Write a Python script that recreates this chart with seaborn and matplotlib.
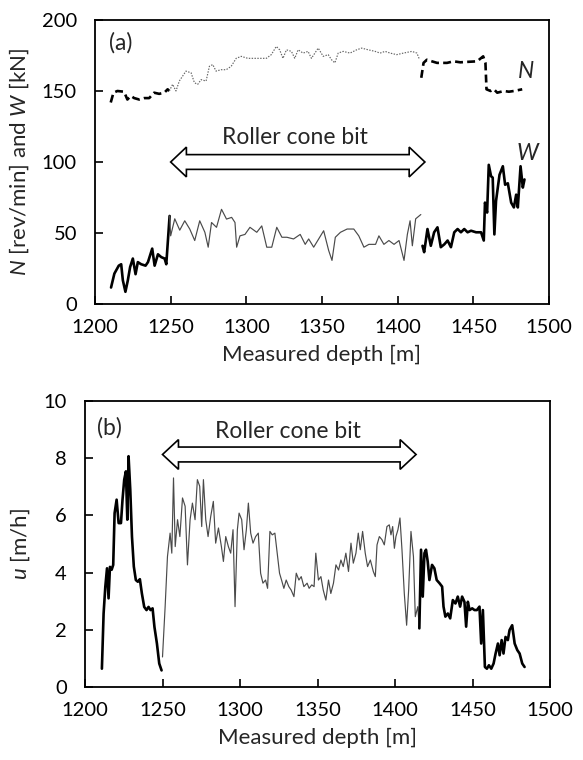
import numpy as np
import pandas as pd
import matplotlib
matplotlib.use("Agg")
import matplotlib.pyplot as plt
import matplotlib.patches as mpatches
import seaborn as sns

sns.set_theme(style="white")
plt.rcParams['font.family'] = ['Lato', 'DejaVu Sans']
plt.rcParams['mathtext.fontset'] = 'custom'
plt.rcParams['mathtext.it'] = 'Lato:italic'
plt.rcParams['mathtext.rm'] = 'Lato'

# ---------------- Panel (a): W [kN] ----------------
w1_depth = [1210.6, 1212.8, 1215.7, 1217.3, 1218.4, 1220.1, 1221.7, 1223.2, 1225.0, 1226.8,
            1228.3, 1230.5, 1233.4, 1235.0, 1237.8, 1239.4, 1241.6, 1243.8, 1246.0, 1247.1, 1249.3]
w1_val = [11.6, 21.4, 27, 28, 16.7, 8.6, 16.7, 26, 32, 21,
          29.5, 28, 27, 29.5, 39, 27, 35, 33, 32, 28, 62]

w2_depth = [1249.3, 1250.0, 1252.7, 1256.0, 1259.3, 1262.6, 1265.9, 1269.2, 1272.6, 1274.8, 1277.0,
            1280.3, 1283.6, 1286.9, 1290.3, 1292.5, 1293.6, 1295.8, 1299.1, 1302.4, 1306.9,
            1310.2, 1313.5, 1316.8, 1320.1, 1323.5, 1326.8, 1331.2, 1335.6, 1338.9, 1341.2,
            1344.5, 1347.8, 1351.1, 1354.4, 1356.6, 1358.8, 1362.2, 1366.6, 1371.0, 1374.3,
            1377.7, 1381.0, 1385.4, 1387.6, 1390.9, 1394.2, 1397.6, 1400.9, 1404.2, 1406.4,
            1408.2, 1409.7, 1411.9, 1415.3]
w2_val = [62, 48, 60, 52, 58.6, 52.8, 44.7, 58.6, 50.5, 40, 57.4,
          54, 66.7, 59.8, 61, 57.4, 40, 48, 49, 54, 50.5,
          55, 40, 40, 54, 47, 47, 45.8, 49, 42, 45.8,
          40, 45.8, 51.6, 37.7, 30.7, 47, 50.5, 52.8, 52.8, 48,
          40, 42, 42, 48, 42, 44.7, 42, 44.7, 30.7, 49,
          58.6, 41, 60, 63]

w3_depth = [1416.4, 1417.5, 1419.7, 1421.9, 1424.1, 1426.3, 1428.5, 1430.8, 1433.0, 1435.2,
            1437.4, 1439.6, 1441.8, 1444.0, 1446.2, 1448.5, 1451.8, 1455.1, 1456.9, 1457.7,
            1459.1, 1460.2, 1461.7, 1462.8, 1463.9, 1465.0, 1467.3, 1469.5, 1471.0, 1472.8,
            1475.0, 1476.8, 1478.3, 1479.4, 1481.2, 1482.7, 1483.8]
w3_val = [41, 36.5, 52.8, 41, 50.5, 54, 40, 42, 44.7, 40,
          50.5, 52.8, 50.5, 52.8, 50.5, 51.6, 50.5, 50.5, 44.7, 71.4,
          64.4, 98, 90, 89, 49, 72.6, 91, 97, 84, 85,
          71.4, 68, 77, 68, 97, 82, 87.7]

# ---------------- Panel (a): N [rev/min] ----------------
n1_depth = [1210.4, 1212.2, 1214.8, 1219.2, 1221.4, 1223.7, 1225.9, 1229.2, 1232.5, 1235.8,
            1239.1, 1242.4, 1245.8, 1248.0, 1249.1]
n1_val = [141.9, 148.8, 150, 149.5, 144, 146.5, 145, 144, 145, 145,
          148.8, 148, 148.8, 151.2, 150]

n2_depth = [1249.1, 1251.3, 1253.5, 1255.7, 1257.9, 1260.1, 1263.5, 1265.7, 1267.9, 1270.1,
            1273.4, 1275.6, 1277.8, 1280.0, 1283.4, 1286.7, 1290.0, 1293.3, 1296.6, 1301.0,
            1306.6, 1313.2, 1316.5, 1319.8, 1322.0, 1324.2, 1326.5, 1329.8, 1332.0, 1334.2,
            1337.5, 1340.8, 1343.0, 1345.3, 1347.5, 1350.8, 1354.1, 1356.3, 1358.5, 1360.7,
            1364.0, 1368.5, 1372.9, 1376.2, 1380.6, 1385.1, 1388.4, 1391.7, 1395.0, 1399.4,
            1403.8, 1409.4, 1412.7, 1414.5]
n2_val = [150, 154.7, 150, 157, 160.5, 164, 162.8, 155.8, 154.7, 158,
          157, 167.4, 168.6, 164, 165, 165, 167.4, 173, 174.4, 173,
          173, 173, 175.6, 181.4, 179, 173, 179, 177.9, 173, 179,
          176.7, 177.9, 173, 176.7, 180.2, 174.4, 175.6, 172, 169.8, 176.7,
          177.9, 176.7, 179, 180.2, 179, 177.9, 176.7, 177.9, 176.7, 175.6,
          176.7, 177.9, 176.7, 172]

n3_depth = [1415.6, 1417.1, 1419.3, 1422.6, 1426.0, 1429.3, 1432.6, 1437.0, 1441.4, 1445.9,
            1452.5, 1456.5, 1458.0, 1458.7, 1461.4, 1463.6, 1465.8, 1470.2, 1473.5, 1476.8, 1482.3]
n3_val = [159.3, 169.8, 172, 170.9, 169.8, 169.8, 169.8, 170.9, 170.2, 170.5,
          170.9, 174.4, 169.8, 151.2, 150, 151.2, 148.8, 150, 149.5, 150, 151.2]

# ---------------- Panel (b): u [m/h] ----------------
u1_depth = [1210.9, 1212.0, 1213.1, 1214.2, 1215.2, 1216.1, 1217.2, 1218.2, 1219.1, 1220.4,
            1221.7, 1223.2, 1224.2, 1225.3, 1226.4, 1227.3, 1228.1, 1229.2, 1230.3, 1231.5,
            1232.8, 1234.1, 1235.4, 1236.7, 1238.2, 1239.7, 1241.0, 1242.3, 1243.6, 1244.8,
            1246.4, 1247.9, 1249.4]
u1_val = [0.64, 2.57, 3.5, 4.15, 3.1, 4.2, 4.1, 4.27, 6.08, 6.55,
          5.73, 5.73, 6.55, 7.25, 7.54, 5.85, 8.07, 6.9, 5.26, 4.21,
          3.74, 3.68, 3.77, 3.27, 2.8, 2.69, 2.8, 2.69, 2.75, 2.1,
          1.52, 0.82, 0.58]

u2_depth = [1250.0, 1251.7, 1253.2, 1254.9, 1256.0, 1257.1, 1258.2, 1259.7, 1261.2, 1262.9,
            1264.6, 1266.1, 1267.8, 1269.3, 1271.0, 1272.5, 1274.0, 1275.3, 1276.4, 1277.9,
            1279.4, 1281.1, 1282.8, 1284.3, 1286.1, 1288.0, 1289.3, 1290.8, 1292.5, 1294.0,
            1295.5, 1296.8, 1298.3, 1299.4, 1301.1, 1302.6, 1304.1, 1305.4, 1306.9, 1308.4,
            1310.1, 1311.8, 1313.3, 1314.8, 1316.5, 1317.8, 1319.3, 1320.8, 1322.5, 1324.0,
            1325.5, 1326.8, 1328.3, 1329.8, 1331.5, 1333.0, 1334.8, 1336.3, 1338.0, 1339.5,
            1341.2, 1343.3, 1344.6, 1346.3, 1347.8, 1348.9, 1350.6, 1352.2, 1353.7, 1355.4,
            1357.1, 1358.6, 1360.3, 1361.9, 1363.6, 1365.1, 1366.6, 1368.3, 1370.0, 1371.6,
            1373.1, 1374.8, 1376.3, 1377.6, 1379.1, 1380.8, 1382.3, 1384.1, 1386.0, 1387.3,
            1388.4, 1389.9, 1391.6, 1393.1, 1394.8, 1396.3, 1397.4, 1398.5, 1399.6, 1400.6,
            1401.9, 1403.2, 1404.5, 1406.0, 1407.5, 1408.8, 1410.3, 1411.9, 1413.1, 1414.7, 1415.7]
u2_val = [1.05, 2.81, 4.56, 5.38, 4.68, 7.31, 4.91, 5.85, 5.26, 6.61,
          6.32, 4.27, 5.85, 6.43, 5.85, 7.25, 7.02, 5.61, 7.25, 5.85,
          5.26, 5.96, 6.49, 5.03, 5.56, 4.91, 4.39, 5.26, 4.91, 4.68,
          5.5, 2.81, 5.5, 6.08, 5.85, 4.8, 5.5, 6.43, 5.38, 5.03,
          5.26, 5.38, 3.98, 3.63, 3.74, 3.45, 5.44, 5.32, 5.38, 4.68,
          3.98, 3.74, 3.45, 3.74, 3.51, 3.39, 3.16, 3.98, 3.74, 3.86,
          3.51, 3.63, 3.45, 3.57, 3.51, 4.68, 3.74, 3.86, 3.39, 3.04,
          3.74, 3.27, 3.63, 4.27, 4.09, 4.44, 4.21, 4.68, 4.04, 5.03,
          4.33, 4.68, 5.38, 4.8, 5.44, 4.68, 4.21, 4.44, 4.04, 3.86,
          4.97, 5.26, 5.15, 4.97, 5.61, 5.67, 5.32, 5.61, 4.85, 5.26,
          5.5, 5.91, 4.8, 3.27, 2.16, 3.39, 5.44, 4.56, 2.46, 2.81, 2.05]

u3_depth = [1415.7, 1416.8, 1417.9, 1419.0, 1420.0, 1421.1, 1422.2, 1423.9, 1425.4, 1426.9,
            1428.7, 1430.4, 1431.3, 1432.5, 1434.1, 1435.6, 1437.3, 1439.0, 1440.5, 1442.0,
            1443.3, 1444.8, 1445.9, 1447.0, 1448.1, 1449.8, 1451.3, 1452.8, 1454.5, 1455.6,
            1456.7, 1458.0, 1459.3, 1460.6, 1462.1, 1463.6, 1464.9, 1466.4, 1467.5, 1468.8,
            1470.0, 1471.3, 1472.8, 1473.9, 1475.6, 1477.2, 1478.9, 1480.4, 1482.1, 1483.6]
u3_val = [2.05, 4.8, 3.16, 4.68, 4.8, 4.39, 3.74, 4.27, 4.15, 3.74,
          3.63, 3.51, 2.81, 2.46, 2.57, 2.4, 3.04, 2.92, 3.16, 2.81,
          3.16, 2.98, 2.11, 2.98, 2.69, 2.75, 2.69, 2.69, 2.81, 1.52,
          2.69, 0.70, 0.64, 0.76, 0.64, 0.82, 1.17, 1.52, 1.11, 1.64,
          1.17, 1.75, 1.64, 1.99, 2.16, 1.52, 1.29, 1.17, 0.82, 0.70]

x_ticks = [1200, 1250, 1300, 1350, 1400, 1450, 1500]
ya_ticks = [0, 50, 100, 150, 200]
yb_ticks = [0, 2, 4, 6, 8, 10]

bit_start, bit_end = 1250, 1418
label_bit = "Roller cone bit"

fig = plt.figure(figsize=(5.83, 7.60), dpi=100)
axa = fig.add_axes([95/583, 1-304/760, 454/583, 284/760])
axb = fig.add_axes([85/583, 1-687/760, 465/583, 286/760])

BOLD = 1.9
THIN = 0.85
GREY = '#4a4a4a'

def seg(ax, xs, ys, **kw):
    sns.lineplot(x=xs, y=ys, ax=ax, estimator=None, sort=False, **kw)

seg(axa, w1_depth, w1_val, color='black', linewidth=BOLD)
seg(axa, w2_depth, w2_val, color=GREY, linewidth=THIN)
seg(axa, w3_depth, w3_val, color='black', linewidth=BOLD)
seg(axa, n1_depth, n1_val, color='black', linewidth=BOLD, linestyle=(0, (3, 1.6)))
seg(axa, n2_depth, n2_val, color='#666666', linewidth=THIN, linestyle=(0, (1.2, 1.2)))
seg(axa, n3_depth, n3_val, color='black', linewidth=BOLD, linestyle=(0, (3, 1.6)))

seg(axb, u1_depth, u1_val, color='black', linewidth=BOLD)
seg(axb, u2_depth, u2_val, color=GREY, linewidth=THIN)
seg(axb, u3_depth, u3_val, color='black', linewidth=BOLD)

def block_arrow(ax, x0, x1, yc, head_h, body_h, head_len):
    pts = [(x0, yc), (x0+head_len, yc+head_h), (x0+head_len, yc+body_h),
           (x1-head_len, yc+body_h), (x1-head_len, yc+head_h), (x1, yc),
           (x1-head_len, yc-head_h), (x1-head_len, yc-body_h),
           (x0+head_len, yc-body_h), (x0+head_len, yc-head_h)]
    ax.add_patch(mpatches.Polygon(pts, closed=True, facecolor='white',
                                  edgecolor='black', linewidth=1.2, zorder=5))

block_arrow(axa, bit_start, bit_end, 100, 10.5, 5.2, 10.4)
block_arrow(axb, bit_start, 1413.6, 8.13, 0.52, 0.26, 10.3)

FS = 16.5
axa.text(1332, 117, label_bit, ha='center', va='center', fontsize=FS)
axb.text(1331, 8.95, label_bit, ha='center', va='center', fontsize=FS)
axa.text(0.03, 0.92, "(a)", transform=axa.transAxes, ha='left', va='center', fontsize=FS)
axb.text(0.025, 0.905, "(b)", transform=axb.transAxes, ha='left', va='center', fontsize=FS)
axa.text(1479, 164, r"$N$", ha='left', va='center', fontsize=FS)
axa.text(1478, 106, r"$W$", ha='left', va='center', fontsize=FS)

for ax, yt in ((axa, ya_ticks), (axb, yb_ticks)):
    ax.set_xlim(x_ticks[0], x_ticks[-1])
    ax.set_ylim(yt[0], yt[-1])
    ax.set_xticks(x_ticks)
    ax.set_yticks(yt)
    ax.tick_params(direction='in', length=6, width=1.2, colors='black',
                   labelsize=14.5, top=False, right=False, bottom=True, left=True)
    ax.tick_params(axis='y', pad=13)
    ax.tick_params(axis='x', pad=11)
    for sp in ax.spines.values():
        sp.set_visible(True)
        sp.set_color('black')
        sp.set_linewidth(1.3)
    ax.set_xlabel("Measured depth [m]", fontsize=16, labelpad=6)
    ax.grid(False)

axa.set_ylabel(r"$N$ [rev/min] and $W$ [kN]", fontsize=16, labelpad=8)
axb.set_ylabel(r"$u$ [m/h]", fontsize=16, labelpad=8)

fig.savefig("out.png", dpi=100)
